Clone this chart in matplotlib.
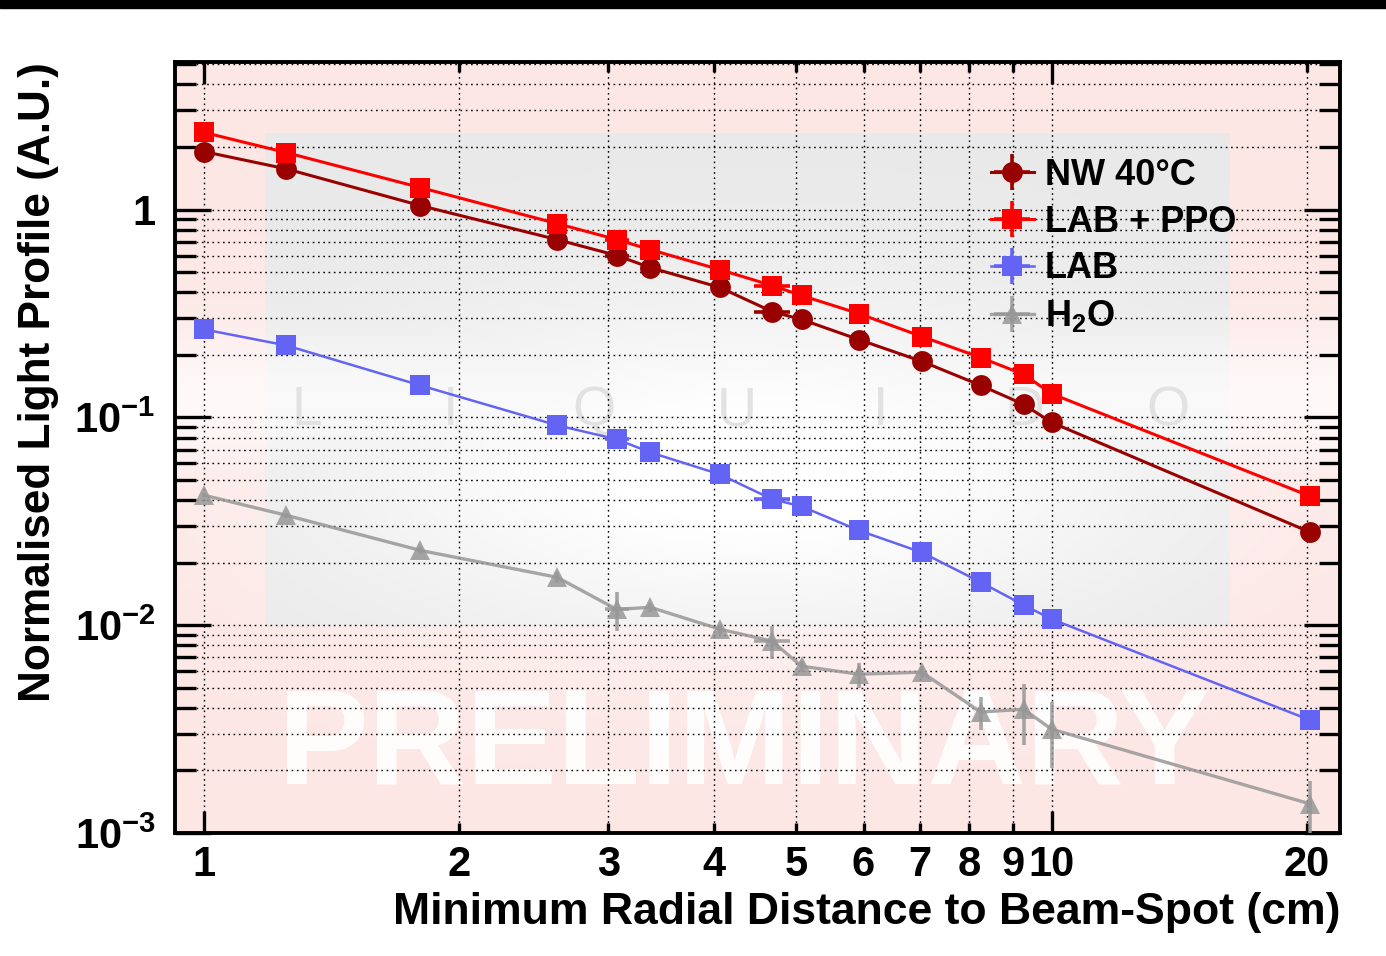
import numpy as np
import matplotlib
matplotlib.use("Agg")
import matplotlib.pyplot as plt
from matplotlib.patches import Rectangle
from matplotlib.ticker import LogLocator, NullFormatter

# ---------------- data ----------------
distance = [1.0, 1.25, 1.80, 2.61, 3.07, 3.36, 4.06, 4.68, 5.07, 5.92, 7.03, 8.25, 9.27, 10.0, 20.2]
distance_err = [0, 0, 0, 0, 0.10, 0, 0, 0.23, 0, 0, 0, 0, 0, 0, 0]

nw40 = [1.90, 1.57, 1.045, 0.717, 0.601, 0.526, 0.422, 0.323, 0.296, 0.237, 0.186, 0.1425, 0.1155, 0.0946, 0.0280]
lab_ppo = [2.35, 1.88, 1.276, 0.856, 0.717, 0.642, 0.514, 0.431, 0.386, 0.316, 0.245, 0.194, 0.161, 0.130, 0.0417]
lab = [0.265, 0.222, 0.1425, 0.0916, 0.0784, 0.0679, 0.0532, 0.0404, 0.0373, 0.0286, 0.0224, 0.0161, 0.0125, 0.0107, 0.00349]
h2o = [0.0422, 0.0338, 0.0229, 0.0170, 0.0119, 0.0122, 0.00957, 0.00838, 0.00635, 0.00581, 0.00594, 0.00382, 0.00394, 0.00316, 0.00138]
h2o_err = [0.001, 0.001, 0.0008, 0.0010, 0.0025, 0.0006, 0.0005, 0.0015, 0.0004, 0.0008, 0.0004, 0.0007, 0.0013, 0.0011, 0.0004]
zero_err = [0.0] * 15

series_labels = ["NW 40°C", "LAB + PPO", "LAB", r"H$_2$O"]

x_major_ticks = [1, 10]
x_major_labels = ["1", "10"]
x_minor_ticks = [2, 3, 4, 5, 6, 7, 8, 9, 20]
x_minor_labels = ["2", "3", "4", "5", "6", "7", "8", "9", "20"]
y_major_ticks = [1e-3, 1e-2, 1e-1, 1]
y_major_labels = [r"$10^{-3}$", r"$10^{-2}$", r"$10^{-1}$", "1"]

xlabel = "Minimum Radial Distance to Beam-Spot (cm)"
ylabel = "Normalised Light Profile (A.U.)"
watermark = "PRELIMINARY"
logo = "LIQUIDO"

# ---------------- style ----------------
plt.rcParams["font.family"] = ["Liberation Sans", "DejaVu Sans"]
plt.rcParams["font.weight"] = "bold"
plt.rcParams["axes.labelweight"] = "bold"
plt.rcParams["mathtext.fontset"] = "custom"
plt.rcParams["mathtext.rm"] = "Liberation Sans:bold"
plt.rcParams["mathtext.bf"] = "Liberation Sans:bold"
plt.rcParams["mathtext.it"] = "Liberation Sans:bold"
plt.rcParams["mathtext.default"] = "bf"

W_PX, H_PX = 1386, 956
fig = plt.figure(figsize=(W_PX / 100, H_PX / 100), dpi=100)
fig.patch.set_facecolor("white")
ax_l, ax_r, ax_t, ax_b = 175, 1340, 62, 833
ax = fig.add_axes([ax_l / W_PX, 1 - ax_b / H_PX, (ax_r - ax_l) / W_PX, (ax_b - ax_t) / H_PX])

# top dark band
fig.patches.append(Rectangle((0, 1 - 8 / H_PX), 1, 8 / H_PX, transform=fig.transFigure,
                             color="black", zorder=10))

# background picture (decoration)
AW, AH = ax_r - ax_l, ax_b - ax_t
px = np.arange(AW)[None, :] + ax_l
py = np.arange(AH)[:, None] + ax_t
pink = np.array([252, 231, 229]) / 255.0
gray = np.array([233, 233, 233]) / 255.0
img = np.ones((AH, AW, 3)) * pink
inrect = (px >= 265) & (px <= 1228) & (py >= 133) & (py <= 625)
img[inrect] = gray
glow = np.exp(-(((px - 745) / 420.0) ** 2 + ((py - 470) / 170.0) ** 2))
band = 0.75 * np.exp(-((py - 400) / 75.0) ** 2) * np.ones_like(px)
a = np.clip(np.maximum(glow * 1.1, band), 0, 1)[..., None]
img = img * (1 - a) + a
ax.imshow(img, extent=[0, 1, 0, 1], transform=ax.transAxes, aspect="auto",
          zorder=-2, interpolation="bilinear")

for i, ch in enumerate(logo):
    ax.text(0.113 + i * 0.1232, 0.547, ch, transform=ax.transAxes, ha="center",
            va="center", fontsize=40, fontweight="normal", color="#e2e2e2", zorder=-1)
ax.text(0.489, 0.108, watermark, transform=ax.transAxes, ha="center", va="center",
        fontsize=98, fontweight="bold", color="white", alpha=0.92, zorder=0.3)

# ---------------- data ----------------
ax.set_xscale("log")
ax.set_yscale("log")

h_h2o = ax.errorbar(distance, h2o, xerr=distance_err, yerr=h2o_err, color="#979797",
                    marker="^", ms=14, mew=0, lw=2.4, elinewidth=2.6, alpha=0.85,
                    label=series_labels[3], zorder=3)
h_lab = ax.errorbar(distance, lab, xerr=distance_err, yerr=zero_err, color="#6464f4",
                    marker="s", ms=14.5, mew=0, lw=1.8, elinewidth=2.6,
                    label=series_labels[2], zorder=4)
h_nw = ax.errorbar(distance, nw40, xerr=distance_err, yerr=zero_err, color="#990000",
                   marker="o", ms=15, mew=0, lw=2.2, elinewidth=2.6,
                   label=series_labels[0], zorder=5)
h_ppo = ax.errorbar(distance, lab_ppo, xerr=distance_err, yerr=zero_err, color="#ff0000",
                    marker="s", ms=14.5, mew=0, lw=2.2, elinewidth=2.6,
                    label=series_labels[1], zorder=6)

ax.set_xlim(0.924, 21.9)
ax.set_ylim(1e-3, 5.13)

# ticks
ax.set_xticks(x_major_ticks, x_major_labels)
ax.set_xticks(x_minor_ticks, x_minor_labels, minor=True)
ax.set_yticks(y_major_ticks, y_major_labels)
ax.yaxis.set_minor_locator(LogLocator(base=10, subs=np.arange(2, 10)))
ax.yaxis.set_minor_formatter(NullFormatter())

ax.tick_params(axis="x", which="both", direction="in", top=True, bottom=True,
               labelsize=30, pad=9, width=2.4, color="black")
ax.tick_params(axis="x", which="major", length=16)
ax.tick_params(axis="x", which="minor", length=7.5)
ax.tick_params(axis="y", which="both", direction="in", left=True, right=True,
               labelsize=30, pad=14, width=2.4, color="black")
ax.tick_params(axis="y", which="major", length=26)
ax.tick_params(axis="y", which="minor", length=15)

for s in ax.spines.values():
    s.set_linewidth(2.8)
    s.set_color("black")

ax.set_axisbelow(True)
ax.grid(True, which="both", axis="both", color="black", lw=1.0, ls=(0, (1.2, 2.6)))

ax.set_xlabel(xlabel, fontsize=32, fontweight="bold", loc="right", labelpad=5)
ax.set_ylabel(ylabel, fontsize=31.8, fontweight="bold", loc="top", labelpad=11)

leg = ax.legend(handles=[h_nw, h_ppo, h_lab, h_h2o], labels=series_labels,
                loc="upper left", bbox_to_anchor=(0.700, 0.876), frameon=False,
                fontsize=26, handlelength=1.2, handletextpad=0.3, labelspacing=0.33,
                borderpad=0, borderaxespad=0)

fig.savefig("out.png", dpi=100)
